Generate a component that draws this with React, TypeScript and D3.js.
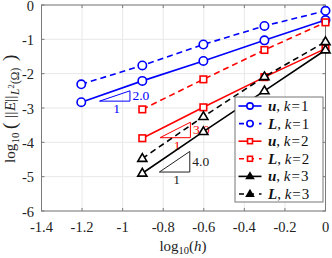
import React from "react";
import * as d3 from "d3";

const hLog = [-1.204, -0.903, -0.602, -0.301, 0];
const uK1 = [-2.83, -2.21, -1.63, -1.03, -0.44];
const LK1 = [-2.31, -1.76, -1.15, -0.61, -0.17];
const uK2 = [-3.88, -2.98, -2.1, -1.27];
const LK2 = [-3.04, -2.165, -1.31, -0.505];
const uK3 = [-4.9, -3.69, -2.5, -1.31];
const LK3 = [-4.47, -3.25, -2.09, -1.07];

const xTicks = [-1.4, -1.2, -1, -0.8, -0.6, -0.4, -0.2, 0];
const yTicks = [0, -1, -2, -3, -4, -5, -6];

const triX0 = [-1.114, -0.816, -0.819];
const triY0 = [-2.8, -3.865, -4.865];
const triSlope = [2, 3, 4];
const triLabels = ["2.0", "3.0", "4.0"];
const triColors = ["#0000ff", "#ff0000", "#222"];
const triW = 0.15;

type Series = { xs: number[]; ys: number[]; color: string; dash: boolean; marker: "o" | "s" | "^"; name: string; k: number };

const series: Series[] = [
  { xs: hLog, ys: uK1, color: "#0000ff", dash: false, marker: "o", name: "u", k: 1 },
  { xs: hLog, ys: LK1, color: "#0000ff", dash: true, marker: "o", name: "L", k: 1 },
  { xs: hLog.slice(1), ys: uK2, color: "#ff0000", dash: false, marker: "s", name: "u", k: 2 },
  { xs: hLog.slice(1), ys: LK2, color: "#ff0000", dash: true, marker: "s", name: "L", k: 2 },
  { xs: hLog.slice(1), ys: uK3, color: "#000000", dash: false, marker: "^", name: "u", k: 3 },
  { xs: hLog.slice(1), ys: LK3, color: "#000000", dash: true, marker: "^", name: "L", k: 3 },
];

const FONT = "'Liberation Serif', 'DejaVu Serif', serif";

function Marker({ type, x, y, color, s = 1, filled = false }: { type: string; x: number; y: number; color: string; s?: number; filled?: boolean }) {
  if (type === "o") return <circle cx={x} cy={y} r={4.2 * s} fill="white" stroke={color} strokeWidth={1.6} />;
  if (type === "s") {
    const h = 3.3 * s;
    return <rect x={x - h} y={y - h} width={2 * h} height={2 * h} fill="white" stroke={color} strokeWidth={1.6} />;
  }
  const r = 4.8 * s;
  const pts = [[x, y - r], [x + r * 0.95, y + r * 0.6], [x - r * 0.95, y + r * 0.6]];
  return <polygon points={pts.map((p) => p.join(",")).join(" ")} fill={filled ? color : "white"} stroke={color} strokeWidth={1.6} strokeLinejoin="miter" />;
}

export default function App() {
  const W = 332, H = 258;
  const x = d3.scaleLinear().domain([-1.4, 0]).range([41.5, 325.5]);
  const y = d3.scaleLinear().domain([-6, 0]).range([211, 5]);
  const line = d3.line<[number, number]>().x((d) => x(d[0])).y((d) => y(d[1]));
  const axisColor = "#7a7a7a";
  const gridColor = "#e8e8e8";
  const legX = 235, legY = 97, legW = 88, legH = 105;
  const rowH = 17.6;
  const lc = "#222";
  return (
    <svg width={W} height={H} style={{ position: "absolute", left: 0, top: 0, background: "white" }} fontFamily={FONT}>
      <rect x={0} y={0} width={W} height={H} fill="white" />
      {/* grid */}
      {xTicks.map((t) => (
        <line key={"gx" + t} x1={x(t)} x2={x(t)} y1={y(0)} y2={y(-6)} stroke={gridColor} strokeWidth={1} />
      ))}
      {yTicks.map((t) => (
        <line key={"gy" + t} x1={x(-1.4)} x2={x(0)} y1={y(t)} y2={y(t)} stroke={gridColor} strokeWidth={1} />
      ))}
      {/* ticks */}
      {xTicks.map((t) => (
        <g key={"tx" + t}>
          <line x1={x(t)} x2={x(t)} y1={y(-6)} y2={y(-6) - 3} stroke={axisColor} />
          <line x1={x(t)} x2={x(t)} y1={y(0)} y2={y(0) + 3} stroke={axisColor} />
          <text x={x(t)} y={231.5} textAnchor="middle" fontSize={14.5} fill={lc}>{String(t)}</text>
        </g>
      ))}
      {yTicks.map((t) => (
        <g key={"ty" + t}>
          <line x1={x(-1.4)} x2={x(-1.4) + 3} y1={y(t)} y2={y(t)} stroke={axisColor} />
          <line x1={x(0)} x2={x(0) - 3} y1={y(t)} y2={y(t)} stroke={axisColor} />
          <text x={34} y={y(t) + 5.5} textAnchor="end" fontSize={14.5} fill={lc}>{String(t)}</text>
        </g>
      ))}
      <rect x={x(-1.4)} y={y(0)} width={x(0) - x(-1.4)} height={y(-6) - y(0)} fill="none" stroke={axisColor} strokeWidth={1} />
      {/* slope triangles */}
      {triX0.map((x0, i) => {
        const x1 = x0 + triW;
        const y0 = triY0[i];
        const y1 = y0 + triSlope[i] * triW;
        const c = triColors[i];
        return (
          <g key={"tri" + i}>
            <polygon points={`${x(x0)},${y(y0)} ${x(x1)},${y(y0)} ${x(x1)},${y(y1)}`} fill="none" stroke={c} strokeWidth={1} />
            <text x={x(x1) + 2.5} y={(y(y0) + y(y1)) / 2 + 4.5} fontSize={13.5} fill={c}>{triLabels[i]}</text>
            <text x={(x(x0) + x(x1)) / 2 + 2} y={y(y0) + 12} fontSize={13.5} fill={c} textAnchor="middle">1</text>
          </g>
        );
      })}
      {/* series */}
      {series.map((s, i) => {
        const pts = s.xs.map((v, j) => [v, s.ys[j]] as [number, number]);
        return (
          <g key={"s" + i}>
            <path d={line(pts) || ""} fill="none" stroke={s.color} strokeWidth={1.6} strokeDasharray={s.dash ? "6,4" : undefined} />
            {pts.map((p, j) => (
              <Marker key={j} type={s.marker} x={x(p[0])} y={y(p[1])} color={s.color} />
            ))}
          </g>
        );
      })}
      {/* legend */}
      <rect x={legX} y={legY} width={legW} height={legH} fill="white" stroke="#777" strokeWidth={1} />
      {series.map((s, i) => {
        const cy = legY + 9 + i * rowH;
        return (
          <g key={"lg" + i}>
            <line x1={238.5} x2={261.5} y1={cy} y2={cy} stroke={s.color} strokeWidth={1.6} strokeDasharray={s.dash ? "5,5" : undefined} strokeDashoffset={s.dash ? -0.5 : 0} />
            <Marker type={s.marker} x={250} y={cy} color={s.color} s={0.75} filled={s.marker === "^"} />
            <text x={268} y={cy + 5} fontSize={15} fill="#111">
              <tspan fontWeight="bold" fontStyle="italic">{s.name}</tspan>
              <tspan>, </tspan>
              <tspan fontStyle="italic">k</tspan>
              <tspan dx={1}>=</tspan>
              <tspan dx={1}>{s.k}</tspan>
            </text>
          </g>
        );
      })}
      {/* axis labels */}
      <text x={183} y={251} textAnchor="middle" fontSize={15} fill={lc}>
        <tspan>log</tspan>
        <tspan fontSize={10.5} dy={3}>10</tspan>
        <tspan dy={-3}>(</tspan>
        <tspan fontStyle="italic">h</tspan>
        <tspan>)</tspan>
      </text>
      <g transform="translate(15,163) rotate(-90)" fill={lc}>
        <text x={0} y={0} fontSize={15}>log</text>
        <text x={19.5} y={3.5} fontSize={11}>10</text>
        <text x={34} y={1} fontSize={19}>(</text>
        <text x={45} y={0} fontSize={15}>|</text>
        <text x={48.5} y={0} fontSize={15}>|</text>
        <text x={52} y={0} fontSize={15} fontStyle="italic">E</text>
        <text x={61} y={0} fontSize={15}>|</text>
        <text x={64.5} y={0} fontSize={15}>|</text>
        <text x={68} y={4} fontSize={11.5} fontStyle="italic">L</text>
        <text x={74.5} y={-1} fontSize={8.5}>2</text>
        <text x={79} y={4} fontSize={11.5}>(Ω)</text>
        <text x={102} y={1} fontSize={19}>)</text>
      </g>
    </svg>
  );
}
